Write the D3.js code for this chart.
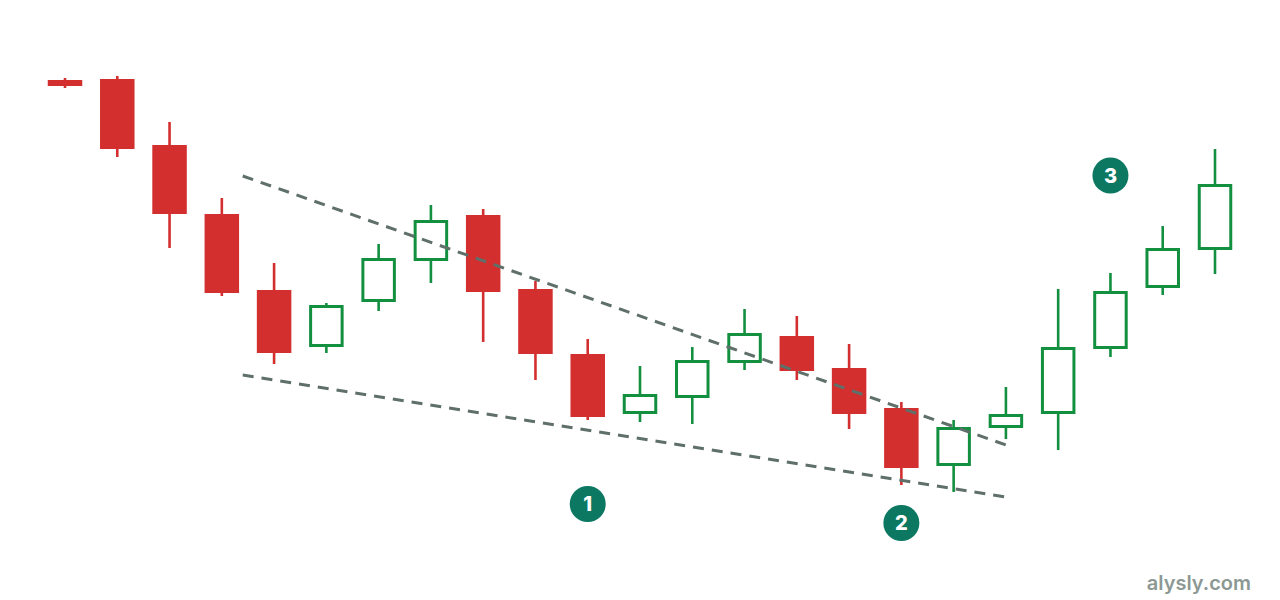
<!DOCTYPE html>
<html>
<head>
<meta charset="utf-8">
<script src="https://cdn.jsdelivr.net/npm/d3@7"></script>
<style>
  html, body { margin: 0; padding: 0; background: #ffffff; }
  svg { display: block; }
</style>
</head>
<body>
<svg id="chart" width="1280" height="600"></svg>
<script>
// ---- data ----
const opens  = [52.0, 52.1, 45.5, 38.6, 31.0, 25.3, 29.8, 33.9, 38.5, 31.1, 24.6, 18.6, 20.2, 23.7, 26.4, 23.2, 19.2, 13.4, 17.2, 18.6, 25.1, 31.2, 35.0];
const highs  = [52.2, 52.4, 47.8, 40.2, 33.7, 29.7, 35.6, 39.5, 39.1, 31.9, 26.1, 23.4, 25.3, 29.1, 28.4, 25.6, 19.8, 18.0, 21.3, 31.1, 32.7, 37.4, 45.1];
const lows   = [51.2, 44.3, 35.2, 30.4, 23.6, 24.7, 28.9, 31.7, 25.8, 22.0, 18.0, 17.8, 17.6, 23.0, 22.0, 17.1, 11.5, 10.8, 16.1, 15.0, 24.3, 30.5, 32.6];
const closes = [51.4, 45.1, 38.6, 30.7, 24.7, 29.5, 34.2, 38.0, 30.8, 24.6, 18.3, 20.6, 24.0, 26.7, 22.9, 18.6, 13.2, 17.3, 18.6, 25.3, 30.9, 35.2, 41.6];

// trend lines: [startIndex, startPrice, endIndex, endPrice]
const upperTrend = [3.4, 42.4, 18.0, 15.5];
const lowerTrend = [3.4, 22.5, 18.0, 10.3];

// numbered markers
const markerLabels = ["1", "2", "3"];
const markerIndex  = [10, 16, 20];
const markerPrice  = [9.6, 7.7, 42.45];

const watermark = "alysly.com";

// ---- build ----
const candles = opens.map((o, i) => ({ i, o, h: highs[i], l: lows[i], c: closes[i] }));

const svg = d3.select("#chart");
const x = d3.scaleLinear().domain([0, opens.length - 1]).range([65, 1215]);
const y = d3.scaleLinear().domain([0, 60]).range([600, 0]);

const RED = "#d32f2f";
const GREEN = "#13903f";
const bodyW = 34.5;
const sw = 3;

// trend lines (drawn under candles? in reference they're over red bodies)
const g = svg.append("g");

// wicks
g.selectAll("line.wick").data(candles).join("line")
  .attr("class", "wick")
  .attr("x1", d => x(d.i)).attr("x2", d => x(d.i))
  .attr("y1", d => y(d.h)).attr("y2", d => y(d.l))
  .attr("stroke", d => d.c >= d.o ? GREEN : RED)
  .attr("stroke-width", 2.6);

// red bodies (filled)
g.selectAll("rect.down").data(candles.filter(d => d.c < d.o)).join("rect")
  .attr("class", "down")
  .attr("x", d => x(d.i) - bodyW / 2)
  .attr("width", bodyW)
  .attr("y", d => y(d.o))
  .attr("height", d => Math.max(1, y(d.c) - y(d.o)))
  .attr("fill", RED);

// green bodies (hollow)
g.selectAll("rect.up").data(candles.filter(d => d.c >= d.o)).join("rect")
  .attr("class", "up")
  .attr("x", d => x(d.i) - bodyW / 2 + sw / 2)
  .attr("width", bodyW - sw)
  .attr("y", d => y(d.c) + sw / 2)
  .attr("height", d => Math.max(1, y(d.o) - y(d.c) - sw))
  .attr("fill", "#ffffff")
  .attr("stroke", GREEN)
  .attr("stroke-width", sw);

// trend lines
const trends = [upperTrend, lowerTrend];
svg.append("g").selectAll("line").data(trends).join("line")
  .attr("x1", d => x(d[0])).attr("y1", d => y(d[1]))
  .attr("x2", d => x(d[2])).attr("y2", d => y(d[3]))
  .attr("stroke", "#5f6f69")
  .attr("stroke-width", 3)
  .attr("stroke-dasharray", "11,8");

// markers
const markers = markerLabels.map((t, k) => ({ t, i: markerIndex[k], p: markerPrice[k] }));
const mg = svg.append("g").selectAll("g").data(markers).join("g")
  .attr("transform", d => `translate(${x(d.i)},${y(d.p)})`);
mg.append("circle").attr("r", 18).attr("fill", "#0c7862");
mg.append("text")
  .attr("text-anchor", "middle")
  .attr("dy", "0.36em")
  .attr("fill", "#ffffff")
  .attr("font-family", "Inter, 'Open Sans', sans-serif")
  .attr("font-weight", 800)
  .attr("font-size", 20)
  .text(d => d.t);

// watermark
svg.append("text")
  .attr("x", 1251).attr("y", 590)
  .attr("text-anchor", "end")
  .attr("fill", "#8c9893")
  .attr("font-family", "Inter, 'Open Sans', sans-serif")
  .attr("font-weight", 600)
  .attr("font-size", 20)
  .text(watermark);
</script>
</body>
</html>
